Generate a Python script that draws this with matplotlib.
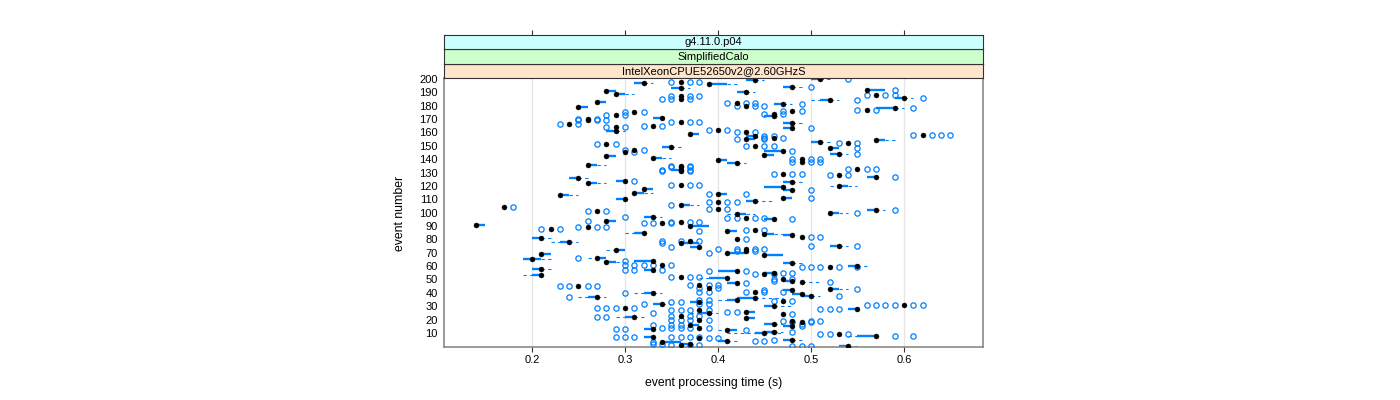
import matplotlib
matplotlib.use("Agg")
import matplotlib.pyplot as plt
import numpy as np

plt.rcParams['font.family'] = ['Liberation Sans', 'DejaVu Sans']

# ---------------- data (times in hundredths of a second) ----------------
event = [200, 199, 198, 197, 196, 194, 193, 192, 191, 190,
         189, 188, 187, 186, 185, 184, 183, 182, 181, 180,
         179, 178, 177, 176, 175, 174, 173, 172, 171, 170,
         169, 168, 167, 166, 165, 164, 163, 162, 161, 160,
         159, 158, 157, 156, 155, 154, 153, 152, 151, 150,
         149, 148, 147, 146, 145, 144, 143, 142, 141, 140,
         139, 138, 137, 136, 135, 134, 133, 132, 131, 129,
         128, 127, 126, 124, 123, 122, 121, 120, 119, 118,
         117, 115, 114, 113, 111, 110, 109, 108, 106, 104,
         103, 102, 101, 100, 99, 97, 96, 95, 94, 93,
         92, 91, 90, 89, 88, 87, 86, 85, 84, 83,
         82, 81, 80, 79, 78, 77, 75, 74, 73, 72,
         71, 70, 69, 68, 66, 65, 64, 63, 62, 61,
         60, 59, 58, 57, 56, 55, 54, 53, 52, 51,
         50, 49, 48, 47, 46, 45, 44, 43, 42, 41,
         40, 39, 38, 37, 36, 35, 34, 33, 32, 31,
         30, 29, 28, 27, 26, 25, 24, 23, 22, 21,
         20, 19, 18, 17, 16, 15, 14, 13, 12, 11,
         10, 9, 8, 7, 6, 5, 4, 3, 2, 1,
         0]

median_cs = [51, 44, 36, 32, 39, 48, 36, 56, 28, 43,
             29, 57, 36, 60, 36, 52, 27, 42, 47, 43,
             25, 59, 56, 48, 31, 46, 29, 46, 34, 26,
             26, 36, 48, 24, 33, 29, 48, 40, 29, 43,
             37, 62, 44, 46, 43, 57, 51, 54, 28, 44,
             35, 52, 31, 47, 30, 53, 45, 28, 33, 49,
             40, 49, 42, 26, 36, 36, 55, 36, 36, 47,
             53, 57, 25, 30, 48, 26, 36, 53, 47, 32,
             48, 31, 40, 23, 47, 30, 44, 40, 36, 17,
             40, 57, 27, 52, 42, 33, 43, 46, 28, 36,
             34, 14, 37, 26, 22, 44, 41, 32, 45, 48,
             49, 21, 42, 37, 24, 36, 53, 38, 43, 29,
             43, 41, 21, 45, 27, 20, 33, 28, 48, 34,
             55, 52, 21, 33, 42, 46, 45, 21, 36, 41,
             47, 48, 49, 42, 38, 25, 39, 52, 48, 44,
             33, 49, 50, 27, 44, 42, 47, 38, 34, 60,
             46, 30, 55, 38, 43, 39, 47, 36, 31, 43,
             38, 48, 49, 46, 37, 48, 38, 33, 41, 46,
             45, 53, 57, 33, 38, 48, 41, 34, 37, 36,
             54]

box_lo_cs = [50, 43, 36, 31, 39, 47, 35, 56, 28, 42,
             29, 57, 36, 59, 36, 51, 27, 42, 46, 43,
             25, 57, 56, 48, 31, 46, 29, 45, 33, 26,
             26, 36, 47, 24, 33, 29, 47, 40, 28, 43,
             37, 62, 43, 46, 43, 57, 50, 54, 28, 44,
             34, 52, 31, 45, 30, 52, 45, 28, 33, 49,
             40, 49, 41, 26, 36, 36, 55, 35, 36, 47,
             53, 56, 24, 29, 47, 26, 36, 53, 45, 32,
             47, 31, 40, 23, 47, 29, 43, 40, 36, 17,
             40, 56, 27, 52, 42, 32, 43, 45, 28, 36,
             34, 14, 37, 26, 22, 44, 41, 31, 45, 47,
             49, 20, 42, 37, 23, 36, 52, 37, 43, 29,
             43, 41, 21, 45, 27, 19, 31, 28, 47, 34,
             54, 52, 20, 32, 40, 45, 45, 20, 36, 39,
             47, 47, 49, 41, 38, 25, 39, 52, 47, 44,
             32, 48, 49, 26, 42, 41, 47, 37, 33, 60,
             45, 30, 54, 38, 43, 38, 47, 36, 30, 43,
             38, 48, 49, 45, 37, 47, 38, 32, 41, 45,
             44, 53, 55, 32, 38, 47, 40, 34, 36, 36,
             53]

box_hi_cs = [51, 44, 36, 32, 41, 48, 36, 58, 29, 43,
             30, 57, 36, 60, 36, 52, 28, 42, 47, 43,
             26, 59, 56, 48, 31, 46, 29, 46, 34, 26,
             26, 36, 48, 24, 33, 29, 48, 40, 29, 43,
             38, 62, 44, 46, 44, 58, 51, 54, 28, 44,
             35, 53, 31, 47, 30, 53, 46, 29, 34, 49,
             41, 49, 42, 27, 36, 36, 55, 36, 36, 47,
             53, 57, 25, 30, 48, 27, 36, 54, 47, 33,
             48, 32, 41, 24, 48, 30, 44, 40, 37, 17,
             40, 57, 27, 53, 43, 33, 43, 46, 29, 36,
             34, 15, 39, 26, 22, 44, 42, 32, 46, 48,
             49, 21, 42, 37, 24, 38, 53, 38, 43, 30,
             43, 43, 22, 47, 28, 21, 33, 29, 48, 34,
             55, 52, 21, 33, 42, 46, 45, 21, 36, 41,
             47, 48, 49, 42, 38, 25, 39, 53, 48, 44,
             33, 49, 50, 27, 44, 42, 47, 38, 34, 60,
             46, 30, 55, 38, 44, 39, 47, 36, 31, 44,
             38, 48, 49, 46, 38, 48, 38, 33, 42, 46,
             45, 53, 57, 33, 38, 48, 41, 36, 37, 36,
             54]

whisker_lo_cs = [50, 43, 36, 31, 39, 47, 35, 56, 28, 42,
                 29, 57, 36, 59, 36, 50, 27, 42, 46, 43,
                 25, 57, 56, 48, 31, 46, 29, 45, 33, 26,
                 26, 36, 47, 24, 33, 29, 47, 40, 28, 43,
                 37, 62, 43, 46, 43, 57, 50, 54, 28, 44,
                 34, 52, 31, 45, 30, 52, 45, 28, 33, 49,
                 40, 49, 41, 26, 36, 36, 55, 35, 36, 47,
                 53, 56, 24, 29, 47, 26, 36, 52, 45, 32,
                 47, 31, 40, 23, 47, 29, 43, 40, 36, 17,
                 40, 56, 27, 52, 41, 32, 43, 45, 28, 36,
                 34, 14, 37, 26, 22, 44, 41, 30, 45, 47,
                 49, 20, 42, 37, 22, 36, 52, 37, 43, 28,
                 43, 41, 21, 45, 26, 19, 31, 28, 47, 34,
                 54, 52, 20, 32, 40, 45, 45, 19, 36, 38,
                 47, 47, 49, 41, 38, 25, 39, 52, 47, 44,
                 31, 48, 49, 25, 42, 40, 47, 37, 33, 60,
                 45, 30, 54, 38, 43, 37, 47, 36, 29, 43,
                 38, 48, 49, 45, 37, 47, 38, 32, 40, 45,
                 41, 53, 54, 32, 38, 47, 40, 34, 36, 36,
                 53]

whisker_hi_cs = [52, 45, 36, 33, 42, 49, 37, 58, 29, 44,
                 31, 57, 36, 61, 36, 53, 28, 42, 48, 43,
                 26, 60, 56, 48, 31, 46, 29, 47, 34, 26,
                 26, 36, 49, 24, 33, 29, 48, 40, 30, 43,
                 38, 62, 44, 46, 44, 59, 52, 54, 28, 44,
                 36, 53, 31, 47, 30, 54, 46, 29, 35, 49,
                 41, 49, 43, 28, 36, 36, 55, 36, 36, 47,
                 53, 57, 26, 30, 49, 28, 36, 55, 47, 33,
                 48, 33, 41, 25, 48, 30, 46, 40, 38, 17,
                 40, 58, 27, 54, 44, 34, 43, 46, 29, 36,
                 34, 15, 39, 26, 22, 44, 42, 32, 47, 48,
                 49, 22, 42, 37, 25, 38, 54, 38, 43, 30,
                 43, 43, 22, 47, 28, 22, 33, 30, 49, 34,
                 56, 52, 22, 33, 42, 46, 45, 21, 36, 41,
                 47, 48, 51, 42, 38, 25, 39, 54, 48, 44,
                 34, 49, 51, 28, 47, 42, 47, 39, 35, 60,
                 48, 30, 55, 38, 44, 40, 47, 36, 32, 44,
                 38, 48, 49, 47, 38, 48, 38, 33, 42, 47,
                 47, 53, 57, 33, 38, 49, 42, 36, 37, 36,
                 55]

outliers_cs = [[54], [], [35, 37, 38], [], [], [50], [], [59], [], [],
               [], [56, 58, 59], [35, 37, 38], [62], [34, 35, 37], [55], [], [41, 43, 44], [49], [42, 44, 45],
               [], [61], [55, 57], [47, 49], [30, 32], [45, 47], [28, 30], [], [], [25, 27],
               [25, 27, 28], [35, 37, 38], [], [23, 25], [32, 34], [28, 30], [50], [39, 41], [], [42, 44],
               [], [61, 63, 64, 65], [45, 46], [45, 47], [42, 45], [], [], [53, 55], [27, 29], [43, 45, 46],
               [], [55], [30, 32], [48], [31], [55], [], [], [], [48, 50, 51],
               [], [48, 50, 51], [], [], [35, 37], [35, 37], [54, 56, 57], [34, 37], [34, 37], [46, 48, 49],
               [52, 54], [59], [], [31], [], [], [35, 37, 38], [], [], [],
               [50], [], [39, 43], [], [50], [], [], [39, 41, 42], [35], [18],
               [39, 41], [59], [26, 28], [55], [], [30], [41, 42, 44, 45], [48], [26], [35, 37, 38],
               [32, 33, 35], [], [], [25, 27, 28], [21, 23], [43, 45], [38], [], [], [],
               [50, 51], [], [43], [34, 36, 38], [], [34], [50, 55], [35], [40, 42, 44, 45], [],
               [42, 44], [39], [], [], [25], [], [30], [], [], [30, 31, 32, 33, 35],
               [], [49, 50, 51, 53, 55], [], [30, 31, 34], [39, 43], [47, 48], [44, 46], [], [35, 37, 38], [],
               [46, 48], [46], [52], [43], [37, 39, 40], [23, 24, 26, 27], [38, 40], [55], [45], [38, 39, 43, 45, 47],
               [30], [], [53], [24], [], [38, 39], [46, 48], [35, 36], [32, 38, 39], [56, 57, 58, 59, 61, 62],
               [], [27, 28, 29, 31], [51, 52, 53], [35, 36, 37, 39], [41, 42], [33], [48], [35, 37, 38], [27, 28], [],
               [35, 36, 37, 39], [47, 50, 51], [48, 50], [49], [33, 35, 36], [49], [34, 35, 36, 37, 39], [29, 30], [43], [48],
               [], [51, 52, 54], [59, 61], [29, 30, 31, 35, 36, 37, 38], [39, 40], [46], [44, 45], [33], [33, 34], [35, 37, 38],
               [48, 49, 50]]

x_ticks = [0.2, 0.3, 0.4, 0.5, 0.6]
y_ticks = list(range(10, 201, 10))
strip_labels = ["IntelXeonCPUE52650v2@2.60GHzS", "SimplifiedCalo", "g4.11.0.p04"]
strip_colors = ["#ffe5cc", "#ccffcc", "#ccffff"]

# ---------------- layout ----------------
W, H = 1400, 400
fig = plt.figure(figsize=(W / 100, H / 100), dpi=100)
fig.patch.set_facecolor("white")

px_l, px_r, px_t, px_b = 444, 983, 78, 347
ax = fig.add_axes([px_l / W, 1 - px_b / H, (px_r - px_l) / W, (px_b - px_t) / H])

blue = "#0080ff"
s = 0.01
ev = np.array(event, dtype=float)
med = np.array(median_cs) * s
q1 = np.array(box_lo_cs) * s
q3 = np.array(box_hi_cs) * s
wlo = np.array(whisker_lo_cs) * s
whi = np.array(whisker_hi_cs) * s

for xg in x_ticks:
    ax.axvline(xg, color="#e6e6e6", lw=1.0, zorder=0)

dash = (0, (3, 3))
ax.hlines(ev, wlo, q1, colors=blue, linestyles=dash, lw=0.8, zorder=2)
ax.hlines(ev, q3, whi, colors=blue, linestyles=dash, lw=0.8, zorder=2)
ax.hlines(ev, q1, q3, colors=blue, lw=1.7, zorder=2, capstyle="butt")

ox, oy = [], []
for e, outs in zip(event, outliers_cs):
    for o in outs:
        ox.append(o * s)
        oy.append(e)
ax.plot(ox, oy, linestyle="none", marker="o", ms=3.8, mfc="none",
        mec=blue, mew=0.9, zorder=3)
ax.plot(med, ev, linestyle="none", marker="o", ms=3.6, mfc="black",
        mec="black", mew=0.3, zorder=4)

ax.set_xlim(0.1054, 0.685)
ax.set_ylim(-0.5, 200.7)
ax.set_xticks(x_ticks)
ax.set_xticklabels([f"{v:.1f}" for v in x_ticks])
ax.set_yticks(y_ticks)
ax.set_yticklabels([str(v) for v in y_ticks])
ax.tick_params(axis="x", direction="out", length=3.6, width=0.8, color="#333333",
               labelsize=8, pad=2.5)
ax.tick_params(axis="y", length=0, labelsize=8, pad=4.5)
for sp in ax.spines.values():
    sp.set_color("#808080")
    sp.set_linewidth(1.1)

# strips
strip_h = 14.5
for i, (lab, col) in enumerate(zip(strip_labels, strip_colors)):
    top_px = px_t - strip_h * (i + 1)
    sax = fig.add_axes([px_l / W, 1 - (top_px + strip_h) / H, (px_r - px_l) / W, strip_h / H])
    sax.set_facecolor(col)
    sax.set_xlim(ax.get_xlim())
    sax.set_yticks([])
    sax.text(0.5, 0.45, lab, transform=sax.transAxes, ha="center", va="center", fontsize=8)
    for sp in sax.spines.values():
        sp.set_color("#333333")
        sp.set_linewidth(0.8)
    if i == len(strip_labels) - 1:
        sax.set_xticks(x_ticks)
        sax.tick_params(axis="x", bottom=False, labelbottom=False, top=True,
                        labeltop=False, direction="out", length=3.6, width=0.8,
                        color="#333333")
    else:
        sax.set_xticks([])

fig.text((px_l + px_r) / 2 / W, 1 - 383 / H, "event processing time (s)",
         ha="center", va="center", fontsize=8.8)
fig.text(400 / W, 1 - 213 / H, "event number", ha="center", va="center",
         rotation=90, fontsize=8.8)

fig.savefig("out.png", dpi=100)
